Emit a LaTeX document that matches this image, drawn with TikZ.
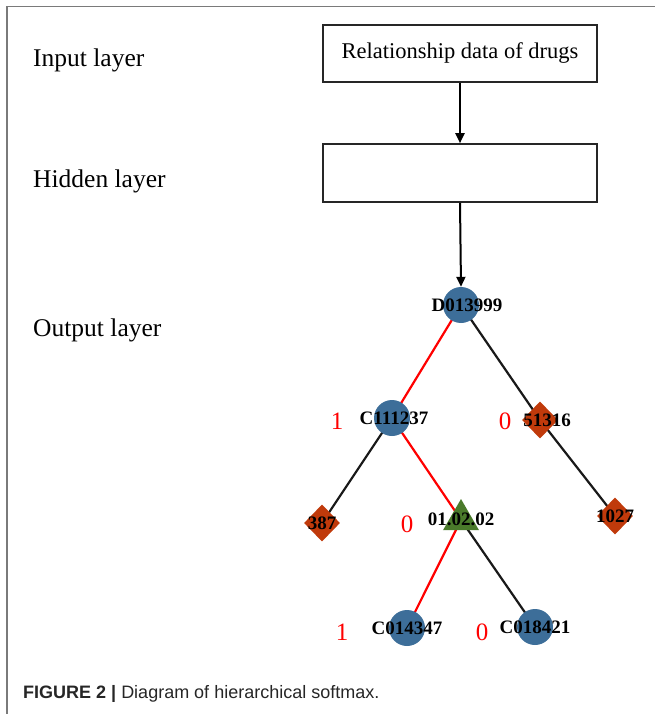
\documentclass[tikz,border=0pt]{standalone}
\usepackage{fontspec}
\setmainfont{Liberation Serif}
\newfontfamily\capfont{Liberation Sans}
\usetikzlibrary{shapes.geometric,arrows.meta,backgrounds}
\definecolor{nodeblue}{HTML}{3D6E99}
\definecolor{nodered}{HTML}{C03A0B}
\definecolor{nodegreen}{HTML}{4A7A2B}
\definecolor{framegray}{HTML}{7A7A7A}
\begin{document}
\begin{tikzpicture}[x=1pt,y=-1pt,
  layerbox/.style={draw=black!85,line width=1.6pt,rectangle,minimum width=274pt,inner sep=0pt},
  sidelabel/.style={anchor=base west,font=\fontsize{25.5}{28}\selectfont,inner sep=0pt},
  nlabel/.style={font=\fontsize{19}{21}\selectfont\bfseries},
  cnode/.style={circle,fill=nodeblue,minimum size=36pt,inner sep=0pt},
  dnode/.style={diamond,fill=nodered,minimum width=36pt,minimum height=37pt,inner sep=0pt},
  tnode/.style={regular polygon,regular polygon sides=3,fill=nodegreen,minimum size=41.6pt,inner sep=0pt},
  bit/.style={text=red,font=\fontsize{25}{28}\selectfont,inner sep=0pt},
  redge/.style={red,line width=2.2pt},
  bedge/.style={black!90,line width=2.2pt},
  arr/.style={black,line width=2pt,-{Triangle[length=10pt,width=9pt]}}
]
\useasboundingbox (0,0) rectangle (655,714);
% frame
\draw[framegray,line width=1.4pt] (655,6.5) -- (7,6.5) -- (7,714);

% left labels
\node[sidelabel] (lin) at (33,67) {Input layer};
\node[sidelabel] (lhid) at (33,187) {Hidden layer};
\node[sidelabel] (lout) at (33,336) {Output layer};

% layer boxes
\node[layerbox,minimum height=57pt,font=\fontsize{22.5}{26}\selectfont] (inbox) at (460,53.5) {Relationship data of drugs};
\node[layerbox,minimum height=58pt] (hidbox) at (460,173) {};

% tree nodes
\node[cnode,label={[nlabel,xshift=6pt]center:D013999}] (d) at (461,305) {};
\node[cnode,label={[nlabel,xshift=2pt]center:C111237}] (c1) at (392,418) {};
\node[dnode,label={[nlabel,xshift=7pt]center:51316}] (n5) at (540,420) {};
\node[dnode,label={[nlabel]center:387}] (n3) at (322,523) {};
\node[tnode,label={[nlabel]center:01.02.02}] (t) at (461,519.8) {};
\node[dnode,label={[nlabel]center:1027}] (n1) at (615,516) {};
\node[cnode,label={[nlabel]center:C014347}] (c2) at (407,628) {};
\node[cnode,label={[nlabel]center:C018421}] (c3) at (535,627) {};

% bit labels
\node[bit] (b1) at (337,421) {1};
\node[bit] (b2) at (505,421) {0};
\node[bit] (b3) at (407,524) {0};
\node[bit] (b4) at (342,632) {1};
\node[bit] (b5) at (482,632) {0};

% caption
\node[anchor=base west,inner sep=0pt,font=\capfont\fontsize{18}{20}\selectfont,text=black!85] (cap) at (23,698)
  {\textbf{FIGURE 2 |} Diagram of hierarchical softmax.};

% connectors
\draw[arr] (inbox.south) -- (hidbox.north);
\draw[arr] (hidbox.south) -- (d.north);
\begin{scope}[on background layer]
\draw[redge] (d.center) -- (c1.center);
\draw[bedge] (d.center) -- (n5.center);
\draw[bedge] (c1.center) -- (n3.center);
\draw[redge] (c1.center) -- (t.center);
\draw[bedge] (n5.center) -- (n1.center);
\draw[redge] (t.center) -- (c2.center);
\draw[bedge] (t.center) -- (c3.center);
\end{scope}
\end{tikzpicture}
\end{document}
